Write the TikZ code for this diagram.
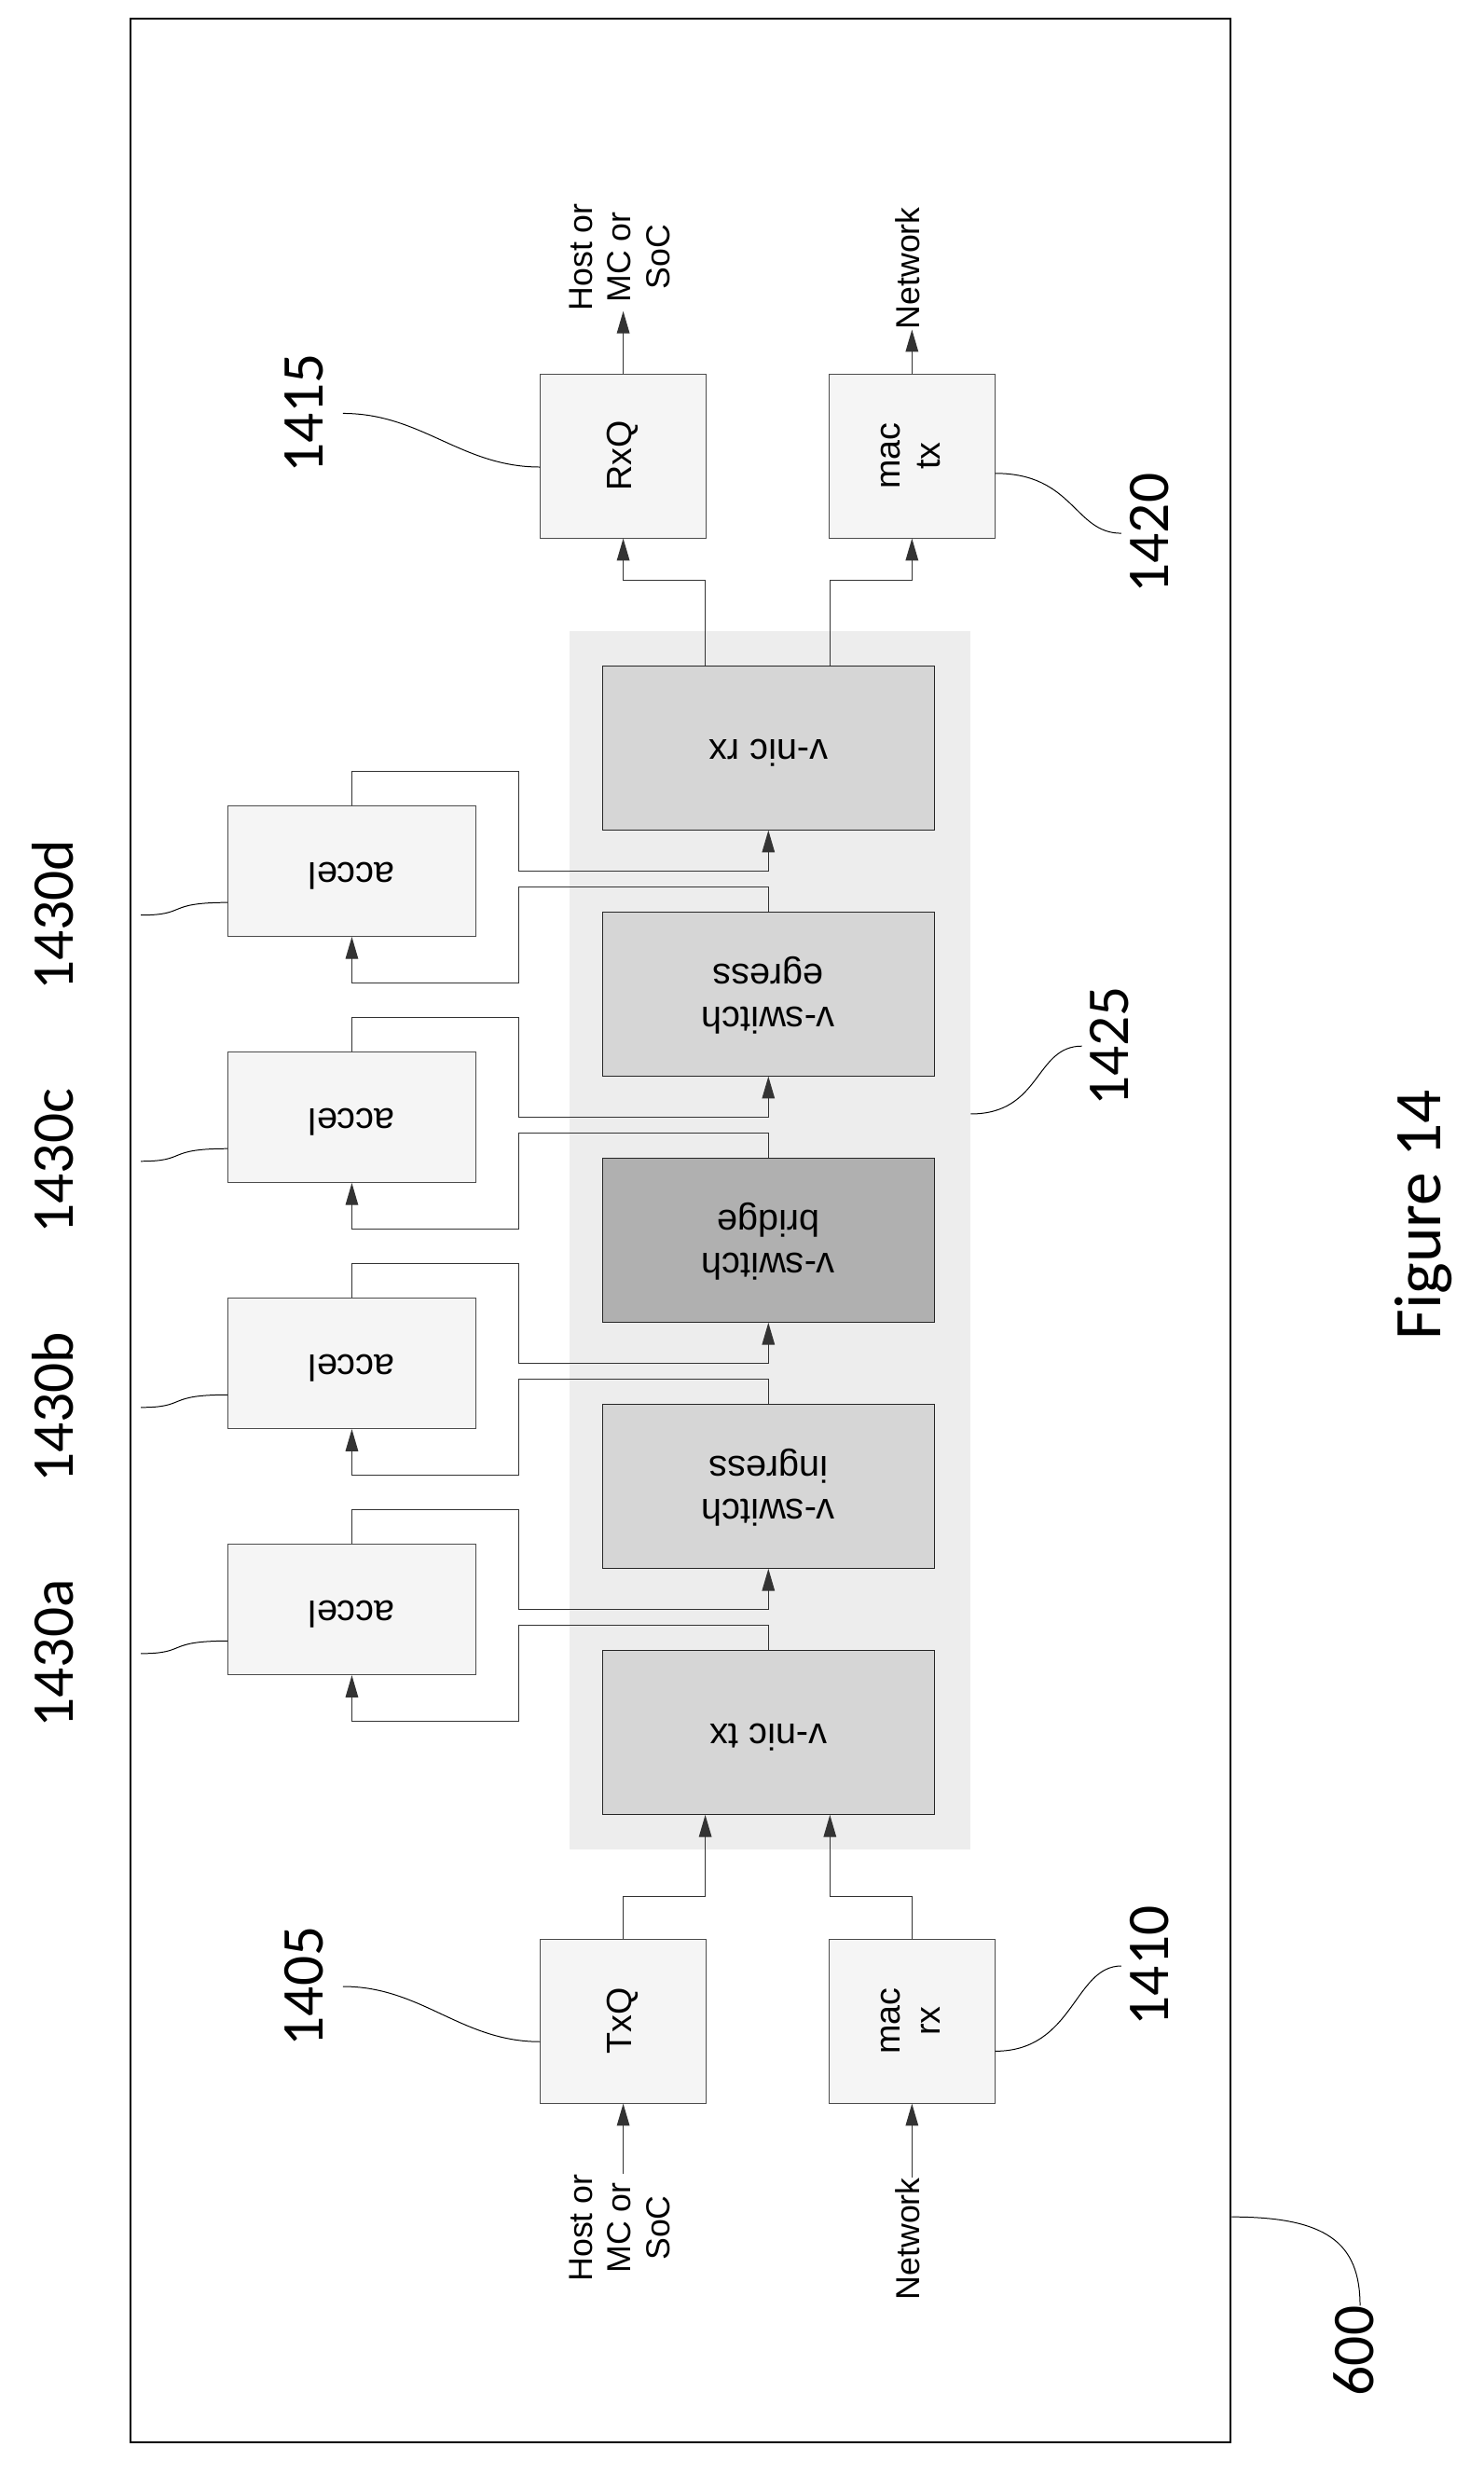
\documentclass[tikz,border=0pt]{standalone}
\usepackage{fontspec}
\setmainfont{Liberation Sans}
\newfontfamily\numfont{Carlito}
\usetikzlibrary{arrows.meta}
\newcommand{\rtxt}[2]{\rotatebox{#1}{\begin{tabular}{@{}c@{}}#2\end{tabular}}}
\tikzset{
  smallbox/.style={draw=black!70, fill=gray!8, minimum width=3.15cm, minimum height=3.12cm, inner sep=0pt, font=\fontsize{19}{22}\selectfont},
  block/.style={draw=black!85, fill=gray!32, minimum width=6.3cm, minimum height=3.12cm, inner sep=0pt, font=\fontsize{20}{23}\selectfont},
  accelbox/.style={draw=black!70, fill=gray!8, minimum width=4.71cm, minimum height=2.49cm, inner sep=0pt, font=\fontsize{20}{23}\selectfont},
  iotext/.style={inner sep=0pt, font=\fontsize{18}{21}\selectfont},
  refnum/.style={inner sep=0pt, font=\numfont\fontsize{32}{36}\selectfont},
  link/.style={draw=black!80, line width=0.6pt},
  arr/.style={link, -{Triangle[length=0.42cm,width=0.24cm]}},
  lead/.style={draw=black, line width=0.5pt}
}
\begin{document}
\begin{tikzpicture}[x=0.03cm, y=-0.03cm]
    \useasboundingbox (0,0) rectangle (940,1568);
    \node[draw, line width=1pt, minimum width=20.91cm, minimum height=46.08cm, inner sep=0pt] (frame) at (431.5,780) {};
    \node[fill=gray!14, minimum width=7.62cm, minimum height=23.16cm, inner sep=0pt] (sw) at (488,786) {};
    % outside boxes
    \node[smallbox] (txq) at (395,1281) {\rtxt{90}{TxQ}};
    \node[smallbox] (macrx) at (578,1281) {\rtxt{90}{mac\\rx}};
    \node[smallbox] (rxq) at (395,289) {\rtxt{90}{RxQ}};
    \node[smallbox] (mactx) at (578,289) {\rtxt{90}{mac\\tx}};
    % pipeline blocks
    \foreach \i/\y/\t in {1/1098/{v-nic tx}, 2/942/{v-switch\\ingress}, 4/630/{v-switch\\egress}, 5/474/{v-nic rx}}
        \node[block] (b\i) at (487,\y) {\rtxt{180}{\t}};
    \node[block, fill=gray!62] (b3) at (487,786) {\rtxt{180}{v-switch\\bridge}};
    \foreach \i/\y in {1/1020, 2/864, 3/708, 4/552} {
        \pgfmathtruncatemacro\j{\i+1}
        \node[accelbox] (a\i) at (223,\y) {\rtxt{180}{accel}};
        \draw[arr] (b\i.north) |- (329,\y+10) -- (329,\y+71) -| (a\i.south);
        \draw[arr] (a\i.north) |- (329,\y-63) -- (329,\y) -| (b\j.south);
    }
    % in and out
    \node[iotext] (hostin) at (395,1412) {\rtxt{90}{Host or\\MC or\\SoC}};
    \node[iotext] (netin) at (578,1419) {\rtxt{90}{Network}};
    \node[iotext] (hostout) at (395,163) {\rtxt{90}{Host or\\MC or\\SoC}};
    \node[iotext] (netout) at (578,170) {\rtxt{90}{Network}};
    \draw[arr] (hostin.north) -- (txq.south);
    \draw[arr] (netin.north) -- (macrx.south);
    \draw[arr] (rxq.north) -- (hostout.south);
    \draw[arr] (mactx.north) -- (netout.south);
    \draw[arr] (txq.north) -- ++(0,-27) -| ([xshift=-1.2cm]b1.south);
    \draw[arr] (macrx.north) -- ++(0,-27) -| ([xshift=1.17cm]b1.south);
    \draw[arr] ([xshift=-1.2cm]b5.north) -- ++(0,-54) -| (rxq.south);
    \draw[arr] ([xshift=1.17cm]b5.north) -- ++(0,-54) -| (mactx.south);
    % reference numerals
    \node[refnum] (n1405) at (196,1259) {\rtxt{90}{1405}};
    \node[refnum] (n1410) at (732,1246) {\rtxt{90}{1410}};
    \node[refnum] (n1415) at (196,262) {\rtxt{90}{1415}};
    \node[refnum] (n1420) at (732,338) {\rtxt{90}{1420}};
    \node[refnum] (n1425) at (707,663) {\rtxt{90}{1425}};
    \node[refnum] (n600) at (862,1490) {\rtxt{90}{600}};
    \foreach \i/\y/\t in {1/1020/1430a, 2/864/1430b, 3/708/1430c, 4/552/1430d}
        \node[refnum] (n\t) at (38,\y+28) {\rtxt{90}{\t}};
    \draw[lead] (n1405.east) .. controls +(50,0) and +(-50,0) .. ([yshift=-0.39cm]txq.west);
    \draw[lead] (n1415.east) .. controls +(50,0) and +(-50,0) .. ([yshift=-0.21cm]rxq.west);
    \draw[lead] ([yshift=-0.57cm]macrx.east) .. controls +(50,0) and +(-30,0) .. (n1410.west);
    \draw[lead] ([yshift=-0.33cm]mactx.east) .. controls +(50,0) and +(-30,0) .. (n1420.west);
    \draw[lead] ([yshift=2.4cm]sw.east) .. controls +(45,0) and +(-30,0) .. (n1425.west);
    \draw[lead] ([yshift=-18.75cm]frame.east) .. controls +(60,0) and +(0,-40) .. (n600.north);
    \foreach \i/\t in {1/1430a, 2/1430b, 3/1430c, 4/1430d}
        \draw[lead] ([xshift=0.9cm]n\t.east) .. controls +(30,0) and +(-40,0) .. ([yshift=-0.6cm]a\i.west);
    \node[inner sep=0pt, font=\numfont\fontsize{36}{40}\selectfont] (fig) at (902,770) {\rotatebox{90}{Figure 14}};
\end{tikzpicture}
\end{document}
